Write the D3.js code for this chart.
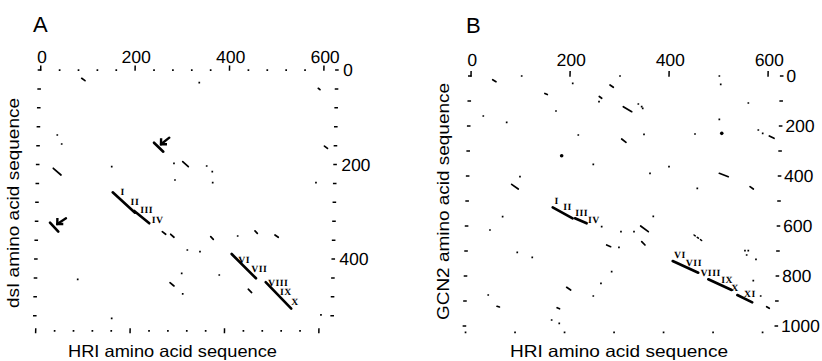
<!DOCTYPE html>
<html><head><meta charset="utf-8">
<script src="https://cdn.jsdelivr.net/npm/d3@7"></script>
<style>body{margin:0;background:#fff}svg{display:block}</style>
</head><body>
<svg id="c" width="822" height="361"></svg>
<script>
// ---------- Panel A: HRI (x) vs dsI (y) ----------
const topLabelsA = [0, 200, 400, 600];
const rightLabelsA = [0, 200, 400];
// main similarity diagonals [x1,y1,x2,y2]
const mainSegA = [[157.5,258.8,205.6,302.0],[204,298.4,236.3,324.4],[412.1,389.4,464.6,440.8],[485.3,449,540.6,505]];
// arrows: line [x1,y1,x2,y2], arrow [tailX,tailY,tipX,tipY]
const arrowLineA = [[243,153.9,263.1,172.9],[25.9,323.2,43.9,342.2]];
const arrowA = [[275.2,143.2,257.9,157.2],[59.6,313.9,41.4,325.9]];
const subLabelsA = ["I","II","III","IV","VI","VII","VIII","IX","X"];
const subPosA = [[178.7,257.5],[205.1,278.7],[230.3,296.3],[254,316],[439,400.6],[471.2,419.7],[512,450],[528.7,469.2],[548.2,490.4]];
const shortSegA = [[87.2,17.6,94.3,22.6],[30.7,208,47.3,222.2],[304.6,194,316.7,204.7],[604.3,161,610.8,166],
  [264.2,342.2,271.5,347.7],[282.1,347.7,289.2,354],[367,352.8,372.6,358.3],[460.6,340.7,465.6,345.6],
  [503.1,349.2,510.2,354.1],[282.6,450.2,291.2,457.1],[448.7,464,456,471],[588.9,38.7,592.5,41.5]];
const dotsA = [[336.5,26.9],[37.8,137.6],[47.5,156.6],[154.4,204.7],[286.2,197.5],[355.6,203.2],[367.7,215.2],
  [289,232.8],[369,238.5],[587.8,238.5],[424.1,351.3],[318,381],[344.9,384.5],[307,430.3],[386.7,433.9],
  [310,474],[86.9,443],[160.5,525.5],[603.8,518.5]];

// ---------- Panel B: HRI (x) vs GCN2 (y) ----------
const topLabelsB = [0, 200, 400, 600];
const rightLabelsB = [0, 200, 400, 600, 800, 1000];
const mainSegB = [[170.7,525.2,211.5,569.2],[216.2,569.2,240,589.2],[415.4,740,467.6,786.8],[488.1,813.2,535.8,856],[547.4,876,578,905.2]];
const subLabelsB = ["I","II","III","IV","VI","VII","VIII","IX","X","XI"];
const subPosB = [[178.5,500],[201,522.8],[229.5,545.2],[254.6,576],[429.9,716],[458.5,746.8],[492.6,785.2],[526.5,816],[542.4,845.2],[573,869.2]];
const shortSegB = [[44,14.8,50.7,22.8],[281.2,36,288,45.2],[260,82,265,89],[309,123,326.2,142.8],[307.1,252,316,265.3],
  [86.8,433.3,100.4,452],[281.4,676,289.5,682.7],[202.4,845.3,210.6,856],[605.2,240,614.8,249.3],
  [505.8,389.3,524.1,402.7],[568.4,442.7,575.2,452],[349.2,600,364.9,622.7],[352,662.7,358.8,676],
  [607.2,922.7,612.6,929.3],[62.5,921,67.5,924],[184,927,189,931],[150,70,155,74]];
const dottedSegB = [[457.4,636,476.4,662.7]];
const dotsB = [[102.4,0],[205.8,29.3],[301,0],[259.7,102.7],[339.2,112],[346.1,122.7],[348.3,129.3],[26.6,160],
  [74.1,185.3],[173.2,140],[219.3,236],[352,233.3],[250.9,353.3],[103.3,402.7],[70,562.7],[45,616],
  [101.1,705.3],[131.6,725.3],[270.5,602.7],[309.7,622.7],[306.3,685.3],[292.6,782.7],[271.5,829.3],
  [256.6,880],[173.5,976],[189,989.3],[44.3,876],[455,232],[582.7,216],[591.7,229.3],[365.8,389.3],
  [403.9,362.7],[462,449.3],[374.3,561.3],[336,622.7],[561,698.8],[567.7,698.8],[564.6,716],[583.6,733.2],
  [579.1,818.7],[594.7,880],[501.7,0],[504.8,33.3],[561.4,108],[503.5,173.3]];
const bigDotsB = [[186.6,318.7],[509,229.3]];

const svg = d3.select("#c");
const INK = "#000";
const NUM_FONT = "'Liberation Sans', Arial, Helvetica, sans-serif";

function panel(o) {
  const x = d3.scaleLinear().domain([0, o.xMax]).range([o.x0, o.x1]);
  const y = d3.scaleLinear().domain([0, o.yMax]).range([o.y0, o.y1]);
  const g = svg.append("g")
    .attr("transform", `translate(${o.x0},${o.y0}) skewX(${o.skew}) translate(${-o.x0},${-o.y0})`);
  const ax = g.append("g").attr("fill", INK);
  // top axis
  ax.selectAll(".tmin").data(o.topMinor).join("rect")
    .attr("x", d => x(d) - 0.8).attr("y", y(0) - 0.8).attr("width", 1.7).attr("height", 1.7);
  ax.selectAll(".tmaj").data(o.topLabels).join("rect")
    .attr("x", d => x(d) - 0.75).attr("y", y(0) - o.topTick).attr("width", 1.5).attr("height", o.topTick + 0.8);
  // bottom axis
  ax.selectAll(".bmin").data(o.botMinor).join("rect")
    .attr("x", d => x(d) - 0.8).attr("y", y(o.yMax) - 0.8).attr("width", 1.7).attr("height", 1.7);
  ax.selectAll(".bmaj").data(o.botMajor).join("rect")
    .attr("x", d => x(d) - 0.75).attr("y", y(o.yMax) - 2.5).attr("width", 1.5).attr("height", 5);
  // left / right axes dashes
  ax.selectAll(".lt").data(o.leftTicks).join("rect")
    .attr("x", x(0) - 3).attr("y", d => y(d) - 0.7).attr("width", 3.6).attr("height", 1.5);
  ax.selectAll(".rt").data(o.rightTicks).join("rect")
    .attr("x", x(o.xMax) - 2).attr("y", d => y(d) - 0.7).attr("width", 3.6).attr("height", 1.5);
  // labels
  g.selectAll(".tl").data(o.topLabels).join("text")
    .attr("x", d => x(d) + 1).attr("y", y(0) - o.topGap)
    .attr("text-anchor", "middle").attr("font-family", NUM_FONT).attr("font-size", 17.5).attr("fill", INK)
    .text(d => d);
  g.selectAll(".rl").data(o.rightLabels).join("text")
    .attr("x", x(o.xMax) + o.rightGap).attr("y", d => y(d)).attr("dy", "0.36em")
    .attr("font-family", NUM_FONT).attr("font-size", 17.5).attr("fill", INK)
    .text(d => d);
  // marks
  const seg = (data, w, dash) => g.append("g").selectAll("line").data(data).join("line")
    .attr("x1", d => x(d[0])).attr("y1", d => y(d[1])).attr("x2", d => x(d[2])).attr("y2", d => y(d[3]))
    .attr("stroke", INK).attr("stroke-width", w).attr("stroke-linecap", "round")
    .attr("stroke-dasharray", dash || null);
  seg(o.mainSeg, 2.6);
  seg(o.shortSeg, 1.7);
  if (o.dottedSeg) seg(o.dottedSeg, 1.5, "1.5,2.5");
  g.append("g").selectAll("rect").data(o.dots).join("rect")
    .attr("x", d => x(d[0]) - 0.85).attr("y", d => y(d[1]) - 0.85).attr("width", 1.7).attr("height", 1.7).attr("fill", INK);
  if (o.bigDots) g.append("g").selectAll("circle").data(o.bigDots).join("circle")
    .attr("cx", d => x(d[0])).attr("cy", d => y(d[1])).attr("r", 1.8).attr("fill", INK);
  if (o.arrowLine) {
    seg(o.arrowLine, 2.6);
    seg(o.arrows, 2.4);
    g.append("g").selectAll("path").data(o.arrows).join("path")
      .attr("d", d => { const tx = x(d[2]), ty = y(d[3]); return `M${tx},${ty-6}L${tx},${ty}L${tx+6},${ty}`; })
      .attr("fill", "none").attr("stroke", INK).attr("stroke-width", 2.4).attr("stroke-linejoin", "miter");
  }
  g.append("g").selectAll("text").data(o.subLabels).join("text")
    .attr("x", (d, i) => x(o.subPos[i][0])).attr("y", (d, i) => y(o.subPos[i][1])).attr("dy", "0.35em")
    .attr("text-anchor", "middle").attr("font-family", "'Liberation Serif', 'Times New Roman', serif")
    .attr("font-weight", "bold").attr("font-size", 9.5).attr("letter-spacing", 0.6).attr("fill", INK)
    .text(d => d);
}

panel({
  xMax: 628, x0: 40.7, x1: 337.1, yMax: 552, y0: 70, y1: 330.8, skew: -1.1,
  topMinor: d3.range(40, 600, 40).filter(v => v % 200), topLabels: topLabelsA, topTick: 4.5, topGap: 6.5,
  botMinor: d3.range(40, 600, 40).filter(v => v % 200), botMajor: [0, 200, 400, 600],
  leftTicks: d3.range(0, 521, 40), rightTicks: d3.range(0, 521, 40), rightLabels: rightLabelsA, rightGap: 6,
  mainSeg: mainSegA, shortSeg: shortSegA, dots: dotsA, arrowLine: arrowLineA, arrows: arrowA,
  subLabels: subLabelsA, subPos: subPosA
});
panel({
  xMax: 628, x0: 471, x1: 781.9, yMax: 1025, y0: 76, y1: 332.25, skew: -1.23,
  topMinor: [], topLabels: topLabelsB, topTick: 5, topGap: 9.5,
  botMinor: d3.range(0, 601, 100), botMajor: [],
  leftTicks: d3.range(0, 1001, 100), rightTicks: d3.range(0, 1001, 100), rightLabels: rightLabelsB, rightGap: 4.5,
  mainSeg: mainSegB, shortSeg: shortSegB, dottedSeg: dottedSegB, dots: dotsB, bigDots: bigDotsB,
  subLabels: subLabelsB, subPos: subPosB
});

// panel letters and axis titles
const TITLE_FONT = "'Liberation Sans', Arial, Helvetica, sans-serif";
svg.append("text").attr("x", 33).attr("y", 31.7).attr("font-family", TITLE_FONT).attr("font-size", 22).attr("fill", INK).text("A");
svg.append("text").attr("x", 466).attr("y", 33.3).attr("font-family", TITLE_FONT).attr("font-size", 22).attr("fill", INK).text("B");
const titles = [
  {t: "HRI amino acid sequence", x: 172.5, y: 357, len: 209, rot: 0},
  {t: "HRI amino acid sequence", x: 619, y: 357, len: 218, rot: 0},
  {t: "dsI amino acid sequence", x: 19, y: 203, len: 210, rot: -90},
  {t: "GCN2 amino acid sequence", x: 449, y: 201.5, len: 237, rot: -90}
];
svg.selectAll(".title").data(titles).join("text")
  .attr("transform", d => `translate(${d.x},${d.y}) rotate(${d.rot})`)
  .attr("text-anchor", "middle").attr("font-family", TITLE_FONT).attr("font-size", 16.5).attr("fill", INK)
  .attr("textLength", d => d.len).attr("lengthAdjust", "spacingAndGlyphs")
  .text(d => d.t);
</script>
</body></html>
